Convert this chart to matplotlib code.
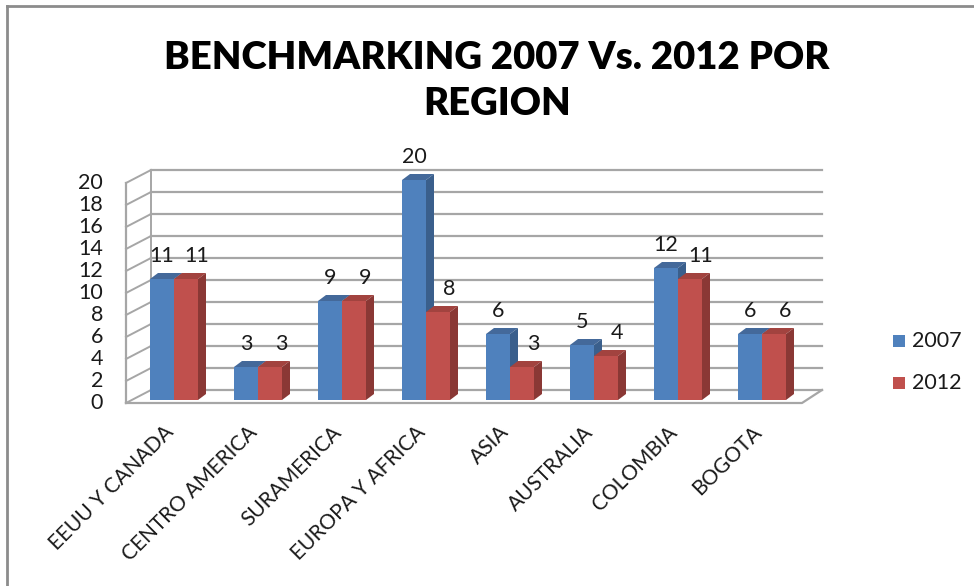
import matplotlib
matplotlib.use('Agg')
import matplotlib.pyplot as plt
from matplotlib.patches import Polygon, Rectangle
from matplotlib.lines import Line2D

# Data
CATEGORIES = ['EEUU Y CANADA', 'CENTRO AMERICA', 'SURAMERICA', 'EUROPA Y AFRICA',
              'ASIA', 'AUSTRALIA', 'COLOMBIA', 'BOGOTA']
VALUES_2007 = [11, 3, 9, 20, 6, 5, 12, 6]
VALUES_2012 = [11, 3, 9, 8, 3, 4, 11, 6]
SERIES = ['2007', '2012']
Y_TICKS = list(range(0, 21, 2))
TITLE = 'BENCHMARKING 2007 Vs. 2012 POR\nREGION'

# Colours (front, side, top)
BLUE = ('#4F81BD', '#3A5F8C', '#44699A')
RED = ('#C0504D', '#8A3835', '#A2433F')
GRID = '#a6a6a6'
FONT = 'Lato'
TXT = '#1a1a1a'

# pixel scale helpers: 84 px per category, 11 px per unit
PX_X = 84.0
PX_Y = 11.0
W, H = 974, 586
X0_PX, Y0_PX = 174, 400

BAR_W = 24 / PX_X
DEPTH_X = 8 / PX_X
DEPTH_Y = 6 / PX_Y

# wall geometry
FRONT_LEFT = (126 - X0_PX) / PX_X
BACK_LEFT = (151 - X0_PX) / PX_X
FRONT_RIGHT = (802 - X0_PX) / PX_X
BACK_RIGHT = (822 - X0_PX) / PX_X
FRONT_DY = -3 / PX_Y
BACK_DY = 10 / PX_Y

fig = plt.figure(figsize=(W / 100, H / 100), dpi=100)
ax = fig.add_axes([0, 0, 1, 1])
ax.set_xlim(-X0_PX / PX_X, (W - X0_PX) / PX_X)
ax.set_ylim(-(H - Y0_PX) / PX_Y, Y0_PX / PX_Y)
ax.axis('off')

# back wall gridlines and left side wall
for v in Y_TICKS:
    ax.plot([BACK_LEFT, BACK_RIGHT], [v + BACK_DY, v + BACK_DY], color=GRID, lw=1.6, zorder=1)
    ax.plot([FRONT_LEFT, BACK_LEFT], [v + FRONT_DY, v + BACK_DY], color=GRID, lw=1.4, zorder=1)
    ax.text(FRONT_LEFT - 23 / PX_X, v + FRONT_DY, str(v), ha='right', va='center',
            fontsize=15.5, family=FONT, color=TXT)
top = Y_TICKS[-1]
ax.plot([FRONT_LEFT, FRONT_LEFT], [FRONT_DY, top + FRONT_DY], color=GRID, lw=1.6, zorder=1)
ax.plot([BACK_LEFT, BACK_LEFT], [BACK_DY, top + BACK_DY], color=GRID, lw=1.4, zorder=1)
# floor
ax.plot([FRONT_LEFT, FRONT_RIGHT, BACK_RIGHT], [FRONT_DY, FRONT_DY, BACK_DY],
        color=GRID, lw=1.6, zorder=1)


def bar3d(x, v, cols):
    front, side, topc = cols
    ax.add_patch(Polygon([(x, v), (x + BAR_W, v), (x + BAR_W + DEPTH_X, v + DEPTH_Y),
                          (x + DEPTH_X, v + DEPTH_Y)], closed=True, fc=topc, ec='none', zorder=3))
    ax.add_patch(Polygon([(x + BAR_W, 0), (x + BAR_W + DEPTH_X, DEPTH_Y),
                          (x + BAR_W + DEPTH_X, v + DEPTH_Y), (x + BAR_W, v)],
                         closed=True, fc=side, ec='none', zorder=3))
    ax.bar(x, v, width=BAR_W, align='edge', color=front, edgecolor='none', zorder=3)


for i, (a, b) in enumerate(zip(VALUES_2007, VALUES_2012)):
    bar3d(i - BAR_W, a, BLUE)
    bar3d(i, b, RED)
    ax.text(i - BAR_W / 2, a + 2.1, str(a), ha='center', va='center',
            fontsize=15.5, family=FONT, color=TXT, zorder=5)
    ax.text(i + BAR_W / 2 + 11 / PX_X, b + 2.1, str(b), ha='center', va='center',
            fontsize=15.5, family=FONT, color=TXT, zorder=5)
    ax.text(i - 0.13, -2.0, CATEGORIES[i], rotation=45, rotation_mode='anchor',
            ha='right', va='top', fontsize=15, family=FONT, color=TXT)

# legend
for k, (name, cols) in enumerate(zip(SERIES, [BLUE, RED])):
    yc = 1 - (341 + 42 * k) / H
    fig.patches.append(Rectangle((893 / W, yc - 6 / H), 12 / W, 12 / H,
                                 transform=fig.transFigure, fc=cols[0], ec='none'))
    fig.text(912 / W, yc, name, ha='left', va='center', fontsize=15.5, family=FONT,
             color=TXT)

# title
fig.text(497 / W, 1 - 81 / H, TITLE, ha='center', va='center', fontsize=27.5,
         fontweight='heavy', family=FONT, linespacing=1.4)

# chart frame
fig.add_artist(Line2D([6.5 / W, 6.5 / W], [0, 1 - 5.5 / H], transform=fig.transFigure,
                      color='#8c8c8c', lw=2))
fig.add_artist(Line2D([6.5 / W, 1], [1 - 5.5 / H, 1 - 5.5 / H], transform=fig.transFigure,
                      color='#8c8c8c', lw=2))

fig.savefig('out.png', dpi=100, facecolor='white')
